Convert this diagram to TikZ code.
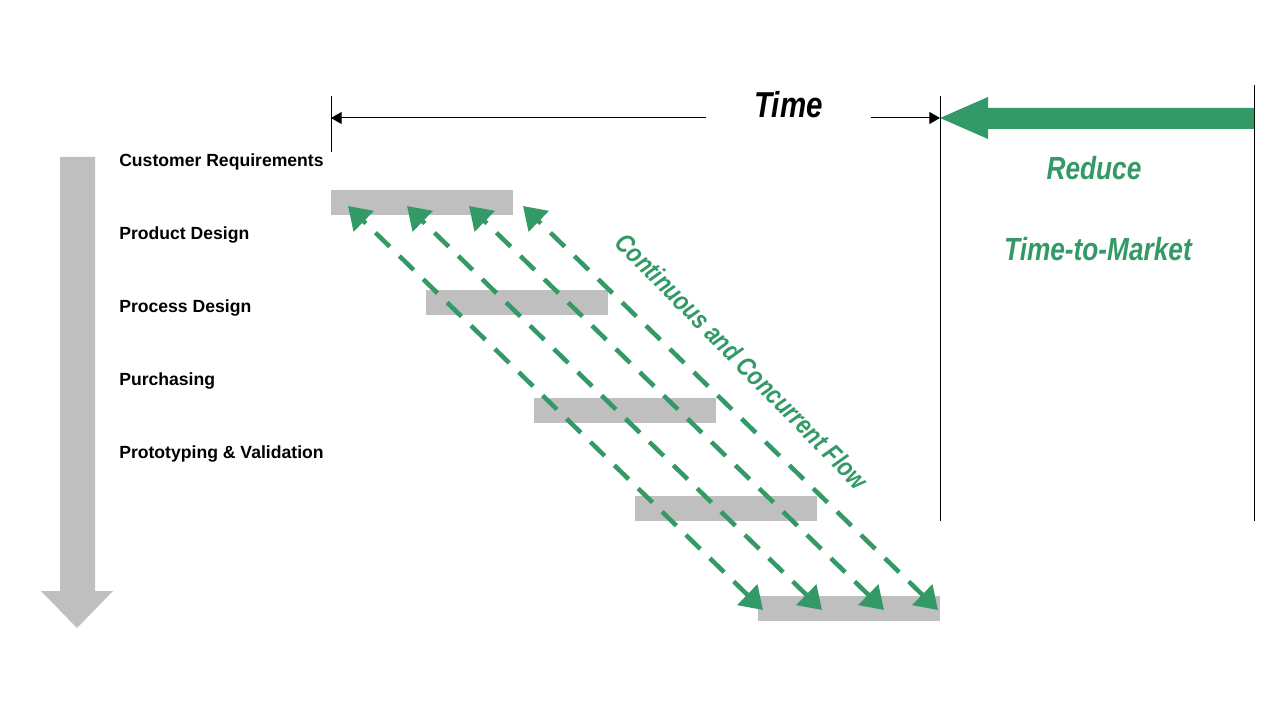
\documentclass[tikz,border=0pt]{standalone}
\usepackage{fontspec}
\setmainfont{Liberation Sans}
\newfontfamily\narrowfont{Liberation Sans}[FakeStretch=0.82]
\usetikzlibrary{arrows.meta}
\definecolor{green1}{RGB}{51,153,102}
\definecolor{gray1}{RGB}{191,191,191}

\begin{document}
\begin{tikzpicture}[x=0.75pt, y=-0.75pt,
  bar/.style={fill=gray1, draw=none, minimum width=136.5pt, minimum height=18.75pt, inner sep=0pt},
  lbl/.style={anchor=base west, inner sep=0pt, font=\bfseries\fontsize{13.2}{15}\selectfont},
  big/.style={inner sep=0pt, anchor=base, font=\narrowfont\bfseries\itshape\fontsize{#1}{#1}\selectfont},
  flow/.style={green1, line width=3.4pt, dash pattern=on 15pt off 10pt, >={Triangle[length=16.5pt,width=21pt]}, <->},
  tline/.style={line width=0.75pt, -{Triangle[length=8pt,width=9pt]}}]
  \useasboundingbox (0,0) rectangle (1280,720);
  % grey arrow on the left
  \fill[gray1] (60,157) -- (95,157) -- (95,591) -- (113,591) -- (77,628) -- (41,591) -- (60,591) -- cycle;
  \node[lbl] (cr) at (119,166.5) {Customer Requirements};
  \node[lbl] (pd) at (119,239.5) {Product Design};
  \node[lbl] (prd) at (119,312.5) {Process Design};
  \node[lbl] (pu) at (119,385.5) {Purchasing};
  \node[lbl] (pv) at (119,458.5) {Prototyping \& Validation};
  \node[bar] (b1) at (422,202.5) {};
  \node[bar] (b2) at (517,302.5) {};
  \node[bar] (b3) at (625,410.5) {};
  \node[bar] (b4) at (726,508.5) {};
  \node[bar] (b5) at (849,608.5) {};
  % time axis
  \draw[line width=0.75pt] (331,96) -- (331,152);
  \draw[line width=0.75pt] (940,96) -- (940,521);
  \draw[line width=0.75pt] (1254,85) -- (1254,521);
  \node[big=27] (time) at (788.5,117.3) {Time};
  \coordinate (tl) at (331,118);
  \coordinate (tl2) at (706,118);
  \coordinate (tr) at (940,118);
  \coordinate (tr2) at (871,118);
  \draw[tline] (tl2) -- (tl);
  \draw[tline] (tr2) -- (tr);
  \fill[green1] (1254,108) -- (988,108) -- (988,97) -- (940,118) -- (988,139) -- (988,129) -- (1254,129) -- cycle;
  \node[big=24, text=green1] (red) at (1094,180) {Reduce};
  \node[big=24, text=green1] (ttm) at (1098,260) {Time-to-Market};
  % concurrent flow
  \foreach \i/\a/\b in {1/348/763, 2/407/822, 3/469/884, 4/523/938} {
    \coordinate (u\i) at (\a,206);
    \coordinate (d\i) at (\b,610);
  }
  \foreach \from/\to in {d1/u1, d2/u2, d3/u3, d4/u4}
    \draw[flow] (\from) -- (\to);
  \node[big=20, anchor=center, text=green1, rotate=-45.5] (flw) at (742,361) {Continuous and Concurrent Flow};
\end{tikzpicture}
\end{document}
